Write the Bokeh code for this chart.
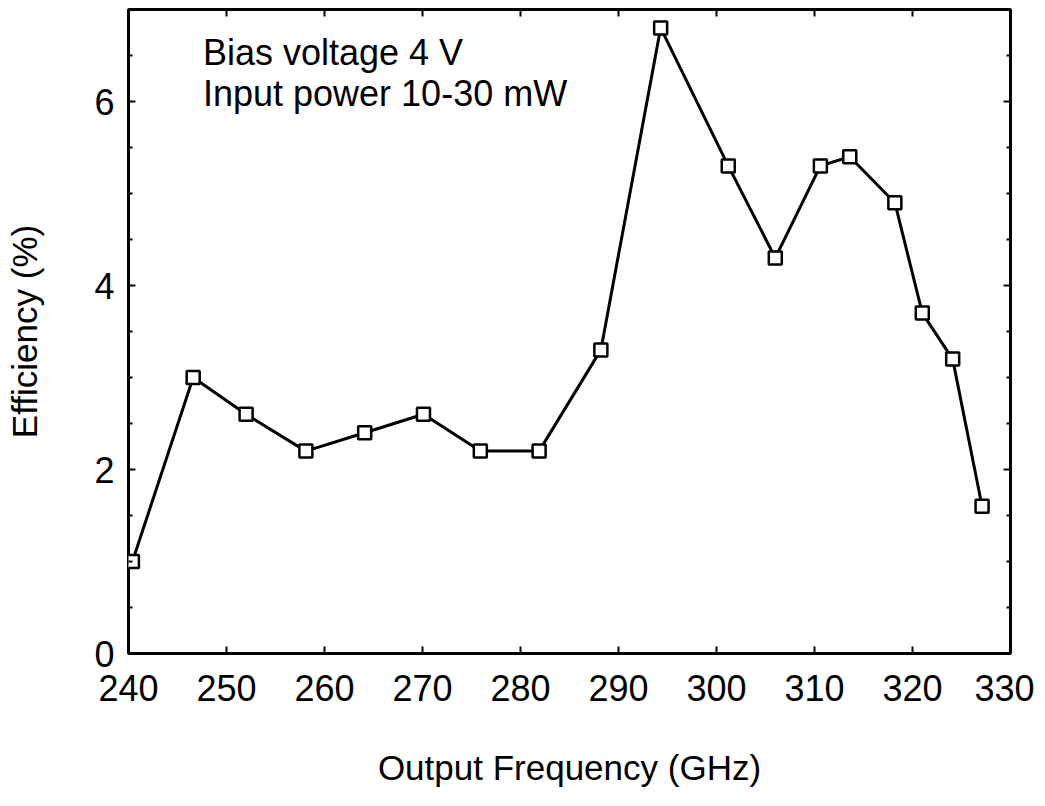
from bokeh.plotting import figure
from bokeh.models import LinearAxis, Label, Range1d, FixedTicker, CustomJSTickFormatter
from bokeh.embed import file_html
from bokeh.resources import INLINE

freq = [240.4, 246.6, 252.0, 258.1, 264.1, 270.1, 275.9, 281.9, 288.2, 294.3,
        301.2, 306.0, 310.6, 313.6, 318.2, 321.0, 324.1, 327.1]
eff = [1.0, 3.0, 2.6, 2.2, 2.4, 2.6, 2.2, 2.2, 3.3, 6.8,
       5.3, 4.3, 5.3, 5.4, 4.9, 3.7, 3.2, 1.6]
x_ticks = [240, 250, 260, 270, 280, 290, 300, 310, 320, 330]
y_ticks = [0, 2, 4, 6]
y_minor = [0.5, 1, 1.5, 2.5, 3, 3.5, 4.5, 5, 5.5, 6.5]
note_lines = ["Bias voltage 4 V", "Input power 10-30 mW"]
x_title = "Output Frequency (GHz)"
y_title = "Efficiency (%)"

FONT = "Liberation Sans"

p = figure(width=1034, height=797, output_backend="svg", toolbar_location=None,
           x_range=Range1d(240, 330), y_range=Range1d(0, 7),
           x_axis_location=None, y_axis_location=None,
           frame_width=882, frame_height=644,
           min_border_left=128, min_border_top=9, min_border_right=24, min_border_bottom=144)
p.grid.visible = False
p.outline_line_color = "black"
p.outline_line_width = 3
p.background_fill_color = "white"
p.border_fill_color = "white"

xt = FixedTicker(ticks=x_ticks)
yt = FixedTicker(ticks=y_ticks, minor_ticks=y_minor)


def style(ax, labels=True):
    ax.axis_line_color = None
    ax.major_tick_in = 7
    ax.major_tick_out = 0
    ax.minor_tick_in = 4
    ax.minor_tick_out = 0
    ax.major_tick_line_width = 2
    ax.minor_tick_line_width = 2
    ax.major_tick_line_color = "black"
    ax.minor_tick_line_color = "black"
    ax.major_label_text_font = FONT
    ax.major_label_text_color = "black"
    ax.major_label_text_font_size = "36px"
    if not labels:
        ax.formatter = CustomJSTickFormatter(code="return '';")
        ax.major_label_standoff = 0


bottom = LinearAxis(ticker=xt, axis_label=x_title)
style(bottom)
bottom.minor_tick_line_color = None
bottom.major_label_standoff = 21
bottom.axis_label_text_font = FONT
bottom.axis_label_text_font_size = "35px"
bottom.axis_label_text_font_style = "normal"
bottom.axis_label_text_color = "black"
bottom.axis_label_standoff = 44
p.add_layout(bottom, "below")

left = LinearAxis(ticker=yt, axis_label=y_title)
style(left)
left.major_label_standoff = 14
left.axis_label_text_font = FONT
left.axis_label_text_font_size = "35px"
left.axis_label_text_font_style = "normal"
left.axis_label_text_color = "black"
left.axis_label_standoff = 47
p.add_layout(left, "left")

top = LinearAxis(ticker=xt)
style(top, labels=False)
top.minor_tick_line_color = None
p.add_layout(top, "above")

right = LinearAxis(ticker=yt)
style(right, labels=False)
p.add_layout(right, "right")

p.line(freq, eff, line_color="black", line_width=3)
p.scatter(freq, eff, marker="square", size=13, fill_color="white",
          line_color="black", line_width=2.5)

for i, t in enumerate(note_lines):
    p.add_layout(Label(x=247.6, y=6.53 - 0.44 * i, text=t, text_font=FONT,
                       text_font_size="36px", text_color="black",
                       text_baseline="alphabetic"))

open("out.html", "w").write(file_html(p, INLINE))
